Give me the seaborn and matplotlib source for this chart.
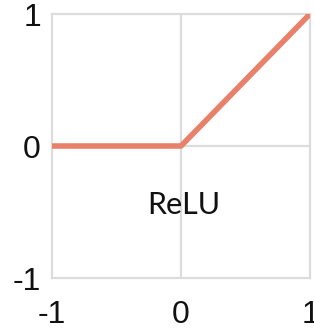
import matplotlib
matplotlib.use('Agg')
import matplotlib.pyplot as plt
import numpy as np
import pandas as pd
import seaborn as sns

# ReLU curve: breakpoints
x_vals = [-1, 0, 1]
y_vals = [0, 0, 1]
ticks = [-1, 0, 1]
tick_labels = ['-1', '0', '1']
label_text = 'ReLU'

df = pd.DataFrame({'x': x_vals, 'y': y_vals})

sns.set_style('white')
plt.rcParams['font.family'] = ['Liberation Sans', 'DejaVu Sans']

fig = plt.figure(figsize=(3.14, 3.31), dpi=100)
ax = fig.add_axes([52 / 314, 1 - 278 / 331, 258 / 314, 264 / 331])

sns.lineplot(data=df, x='x', y='y', color='#E8806A', linewidth=4, ax=ax,
             solid_capstyle='round', zorder=3)

ax.set_xlim(-1, 1)
ax.set_ylim(-1, 1)
ax.set_xticks(ticks, tick_labels)
ax.set_yticks(ticks, tick_labels)
ax.tick_params(axis='x', length=0, pad=16, labelsize=23, labelcolor='#111111')
ax.tick_params(axis='y', length=0, pad=8, labelsize=23, labelcolor='#111111')
ax.set_xlabel('')
ax.set_ylabel('')

# light grid only through the origin, frame in same gray
ax.axvline(0, color='#dcdcdc', linewidth=1.6, zorder=1)
ax.axhline(0, color='#dcdcdc', linewidth=1.6, zorder=1)
for s in ax.spines.values():
    s.set_color('#dcdcdc')
    s.set_linewidth(1.6)

ax.text(0.02, -0.45, label_text, ha='center', va='center', fontsize=22,
        family=['Lato', 'DejaVu Sans'], color='#111111')

fig.savefig('out.png', dpi=100)
